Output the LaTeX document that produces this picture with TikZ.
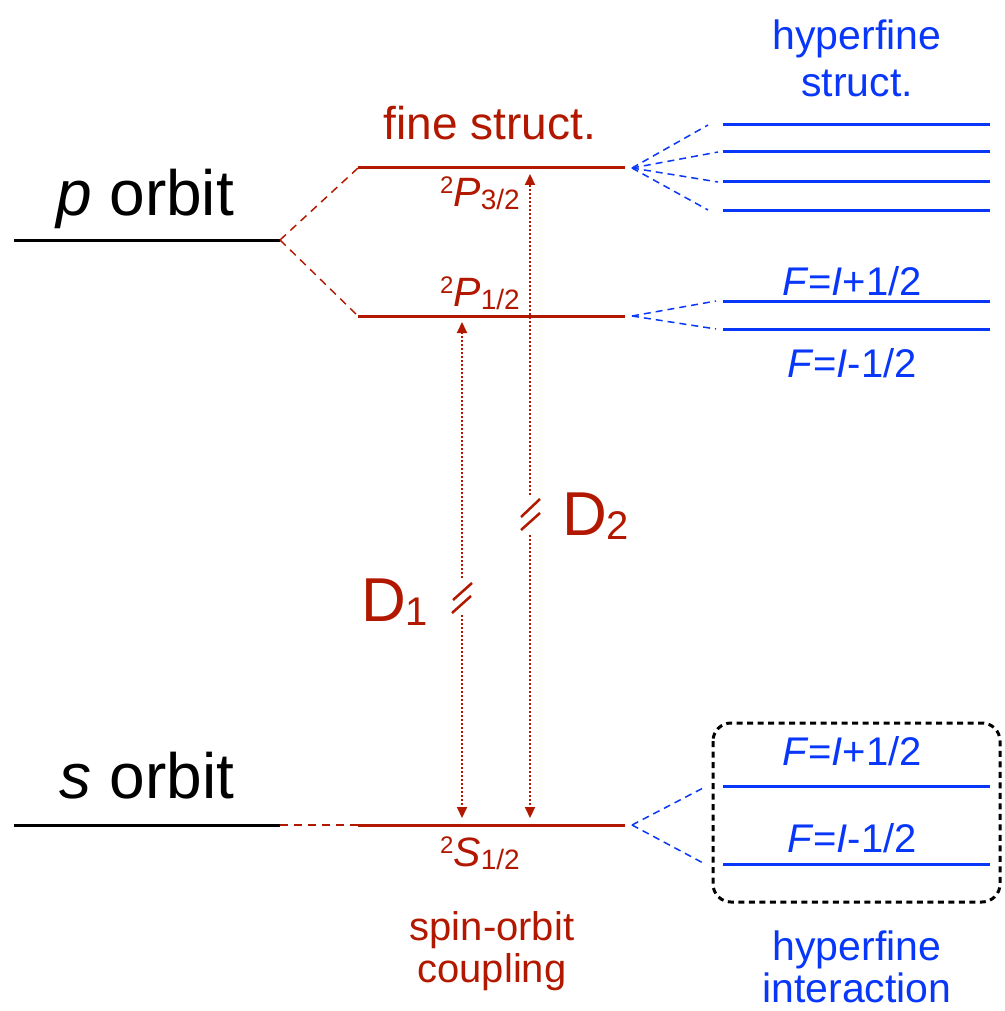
\documentclass[tikz,border=0pt]{standalone}
\usepackage{fontspec}
\setmainfont{Liberation Sans}
\usetikzlibrary{arrows.meta}
\definecolor{fred}{RGB}{178,24,0}
\definecolor{hblue}{RGB}{8,55,250}
\newcommand\lvlterm[3]{\raisebox{13pt}{\fontsize{24}{26}\selectfont #1}\textit{#2}\raisebox{-3pt}{\fontsize{28}{30}\selectfont #3}}
\begin{document}
\begin{tikzpicture}[x=1pt,y=-1pt,
  orb/.style={line width=3pt,black},
  redlvl/.style={line width=3pt,fred},
  bluelvl/.style={line width=3pt,hblue},
  redlink/.style={fred,line width=1.5pt,dash pattern=on 8pt off 6pt},
  bluelink/.style={hblue,line width=1.5pt,dash pattern=on 7pt off 5pt},
  trans/.style={fred,line width=2pt,dash pattern=on 2pt off 2pt},
  tip/.style={-{Triangle[length=11pt,width=10pt]}},
  slash/.style={fred,line width=2.5pt},
  bigtxt/.style={font=\fontsize{64}{70}\selectfont,inner sep=0pt,anchor=base},
  redtxt/.style={text=fred,font=\fontsize{40}{46}\selectfont,inner sep=0pt,anchor=base},
  bluetxt/.style={text=hblue,font=\fontsize{40}{46}\selectfont,inner sep=0pt,anchor=base},
  termtxt/.style={text=fred,font=\fontsize{41}{46}\selectfont,inner sep=0pt,anchor=base}
]
\useasboundingbox (0,0) rectangle (1004,1011);

% orbit levels
\coordinate (pL) at (14,240);  \coordinate (pR) at (280,240);
\coordinate (sL) at (14,825);  \coordinate (sR) at (280,825);
\draw[orb] (pL) -- (pR);
\draw[orb] (sL) -- (sR);
\node[bigtxt] (porb) at (145,215) {\textit{p} orbit};
\node[bigtxt] (sorb) at (147,798) {\textit{s} orbit};

% fine structure levels
\coordinate (p32L) at (358,168); \coordinate (p32R) at (625,168);
\coordinate (p12L) at (358,316); \coordinate (p12R) at (625,316);
\coordinate (s12L) at (358,825); \coordinate (s12R) at (625,825);
\draw[redlvl] (p32L) -- (p32R);
\draw[redlvl] (p12L) -- (p12R);
\draw[redlvl] (s12L) -- (s12R);
\draw[redlink] (pR) -- (p32L);
\draw[redlink] (pR) -- (p12L);
\draw[redlink] (sR) -- (s12L);

\node[redtxt,font=\fontsize{46}{50}\selectfont] (fine) at (490,140) {fine struct.};
\node[termtxt] (tp32) at (480,206) {\lvlterm{2}{P}{3/2}};
\node[termtxt] (tp12) at (480,306) {\lvlterm{2}{P}{1/2}};
\node[termtxt] (ts12) at (480,866) {\lvlterm{2}{S}{1/2}};
\node[redtxt] (spin) at (492,940) {spin-orbit};
\node[redtxt] (coup) at (492,982) {coupling};

% D1 transition
\coordinate (d1top) at (462,322);
\coordinate (d1a) at (462,578);
\coordinate (d1b) at (462,615);
\coordinate (d1bot) at (462,818);
\draw[trans,tip] (d1a) -- (d1top);
\draw[trans,tip] (d1b) -- (d1bot);
\draw[slash] (453,600) -- (472,583);
\draw[slash] (452,613) -- (471,596);
\node[anchor=base west,inner sep=0pt,text=fred,font=\fontsize{62}{70}\selectfont] (D1) at (361,621) {D\raisebox{-4pt}{\fontsize{40}{44}\selectfont 1}};

% D2 transition
\coordinate (d2top) at (530,174);
\coordinate (d2a) at (530,495);
\coordinate (d2b) at (530,535);
\coordinate (d2bot) at (530,818);
\draw[trans,tip] (d2a) -- (d2top);
\draw[trans,tip] (d2b) -- (d2bot);
\draw[slash] (521,517) -- (540,499);
\draw[slash] (521,530) -- (540,513);
\node[anchor=base west,inner sep=0pt,text=fred,font=\fontsize{62}{70}\selectfont] (D2) at (562,535) {D\raisebox{-4pt}{\fontsize{40}{44}\selectfont 2}};

% hyperfine structure of P3/2
\coordinate (h3o) at (632,168);
\foreach \y/\xe [count=\i] in {125/708,152/718,182/718,210/708}{
  \coordinate (h3s\i) at (\xe,\y);
  \coordinate (h3a\i) at (723,\y);
  \coordinate (h3b\i) at (990,\y);
  \draw[bluelvl] (h3a\i) -- (h3b\i);
  \draw[bluelink] (h3o) -- (h3s\i);
}
\node[bluetxt,font=\fontsize{41}{46}\selectfont] (hs1) at (857,50) {hyperfine};
\node[bluetxt,font=\fontsize{41}{46}\selectfont] (hs2) at (857,97) {struct.};

% hyperfine of P1/2
\coordinate (h1o) at (632,316);
\coordinate (h1s1) at (716,301); \coordinate (h1s2) at (716,329);
\coordinate (h1a1) at (723,301); \coordinate (h1b1) at (990,301);
\coordinate (h1a2) at (723,329); \coordinate (h1b2) at (990,329);
\draw[bluelvl] (h1a1) -- (h1b1);
\draw[bluelvl] (h1a2) -- (h1b2);
\draw[bluelink] (h1o) -- (h1s1);
\draw[bluelink] (h1o) -- (h1s2);
\node[bluetxt] (f1p) at (852,295) {\textit{F}=\textit{I}+1/2};
\node[bluetxt] (f1m) at (852,377) {\textit{F}=\textit{I}-1/2};

% hyperfine of S1/2
\coordinate (hso) at (632,825);
\coordinate (hss1) at (705,787); \coordinate (hss2) at (705,864);
\coordinate (hsa1) at (723,786); \coordinate (hsb1) at (990,786);
\coordinate (hsa2) at (723,864); \coordinate (hsb2) at (990,864);
\draw[bluelvl] (hsa1) -- (hsb1);
\draw[bluelvl] (hsa2) -- (hsb2);
\draw[bluelink] (hso) -- (hss1);
\draw[bluelink] (hso) -- (hss2);
\node[bluetxt] (fsp) at (852,765) {\textit{F}=\textit{I}+1/2};
\node[bluetxt] (fsm) at (852,852) {\textit{F}=\textit{I}-1/2};
\draw[black,line width=3pt,dash pattern=on 6pt off 4.5pt,rounded corners=18pt] (713,723) rectangle (1000,902);
\node[bluetxt,font=\fontsize{41}{46}\selectfont] (hi1) at (857,960) {hyperfine};
\node[bluetxt,font=\fontsize{41}{46}\selectfont] (hi2) at (857,1002) {interaction};
\end{tikzpicture}
\end{document}
